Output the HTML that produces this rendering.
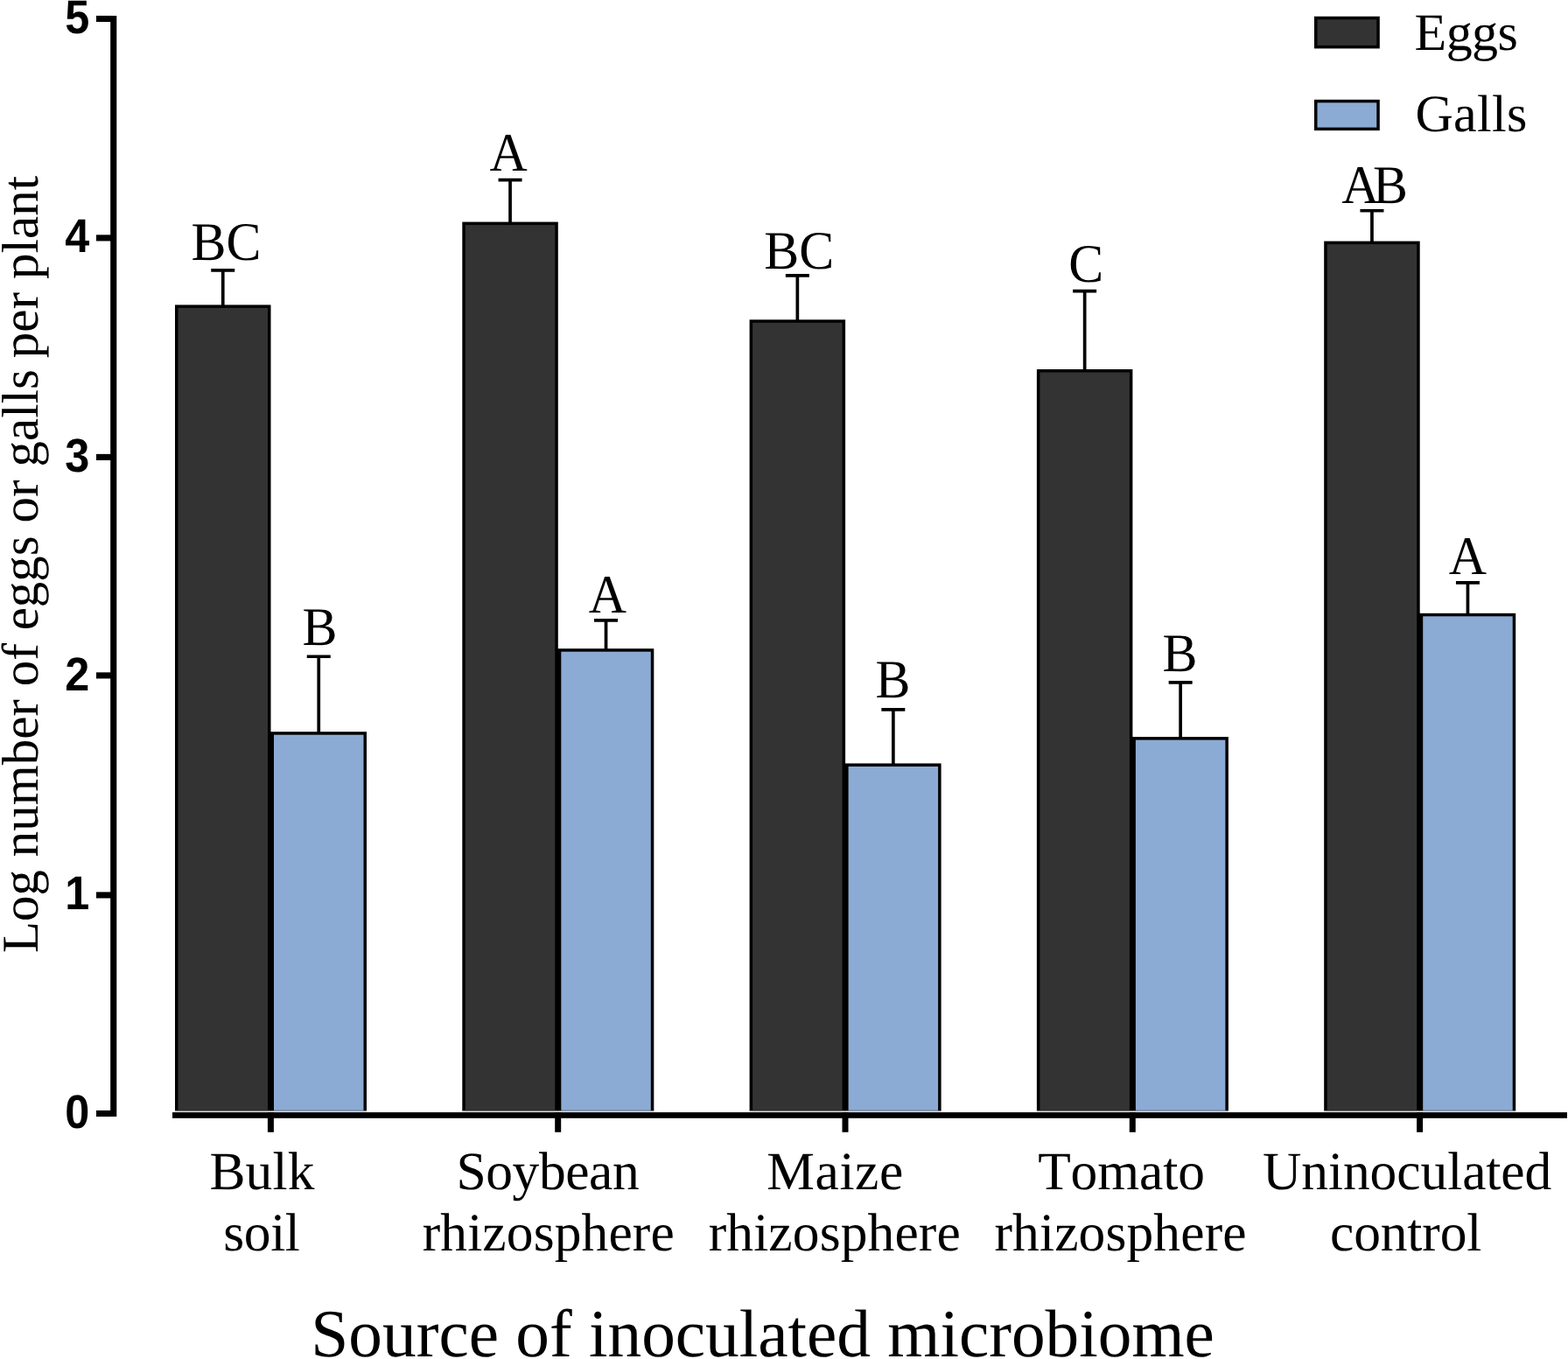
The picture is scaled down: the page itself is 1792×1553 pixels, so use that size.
<!DOCTYPE html>
<html lang="en">
<head>
<meta charset="utf-8">
<title>Log number of eggs or galls per plant</title>
<style>
html,body{margin:0;padding:0;background:#fff;}
body{width:1792px;height:1553px;overflow:hidden;}
svg{display:block;position:absolute;left:0;top:0;}
text{font-family:"Liberation Serif","Times New Roman",serif;fill:#000;text-rendering:geometricPrecision;font-kerning:none;font-variant-ligatures:none;}
.num{font-family:"Liberation Sans",Arial,sans-serif;font-weight:700;font-size:52px;text-anchor:end;}
.let{font-size:60.5px;text-anchor:middle;}
.xl{font-size:61.5px;text-anchor:middle;}
.leg{font-size:60px;}
.ttl{font-size:77.3px;text-anchor:middle;}
.yl{font-size:59px;text-anchor:middle;}
</style>
</head>
<body>
<svg width="1792" height="1553" viewBox="0 0 1792 1553">
<rect x="0" y="0" width="1792" height="1553" fill="#ffffff"/>

<g stroke="#000" stroke-width="3.5" stroke-linejoin="miter">
<path d="M241.25 308.85 H268.25 M254.75 308.85 V349.40" fill="none" stroke-width="3.7"/>
<rect x="200.00" y="348.40" width="109.50" height="921.20" fill="#000" stroke="none"/>
<rect x="203.50" y="351.90" width="102.50" height="917.70" fill="#333333" stroke="none"/>
<path d="M350.75 750.25 H377.75 M364.25 750.25 V837.20" fill="none" stroke-width="3.7"/>
<rect x="308.50" y="836.20" width="110.50" height="433.40" fill="#000" stroke="none"/>
<rect x="313.00" y="839.70" width="102.50" height="429.90" fill="#8cabd4" stroke="none"/>
<path d="M569.55 205.60 H596.55 M583.05 205.60 V254.60" fill="none" stroke-width="3.7"/>
<rect x="528.30" y="253.60" width="109.50" height="1016.00" fill="#000" stroke="none"/>
<rect x="531.80" y="257.10" width="102.50" height="1012.50" fill="#333333" stroke="none"/>
<path d="M679.05 708.95 H706.05 M692.55 708.95 V742.20" fill="none" stroke-width="3.7"/>
<rect x="636.80" y="741.20" width="110.50" height="528.40" fill="#000" stroke="none"/>
<rect x="641.30" y="744.70" width="102.50" height="524.90" fill="#8cabd4" stroke="none"/>
<path d="M897.85 314.95 H924.85 M911.35 314.95 V366.30" fill="none" stroke-width="3.7"/>
<rect x="856.60" y="365.30" width="109.50" height="904.30" fill="#000" stroke="none"/>
<rect x="860.10" y="368.80" width="102.50" height="900.80" fill="#333333" stroke="none"/>
<path d="M1007.35 810.85 H1034.35 M1020.85 810.85 V873.40" fill="none" stroke-width="3.7"/>
<rect x="965.10" y="872.40" width="110.50" height="397.20" fill="#000" stroke="none"/>
<rect x="969.60" y="875.90" width="102.50" height="393.70" fill="#8cabd4" stroke="none"/>
<path d="M1226.15 332.65 H1253.15 M1239.65 332.65 V423.00" fill="none" stroke-width="3.7"/>
<rect x="1184.90" y="422.00" width="109.50" height="847.60" fill="#000" stroke="none"/>
<rect x="1188.40" y="425.50" width="102.50" height="844.10" fill="#333333" stroke="none"/>
<path d="M1335.65 779.95 H1362.65 M1349.15 779.95 V843.10" fill="none" stroke-width="3.7"/>
<rect x="1293.40" y="842.10" width="110.50" height="427.50" fill="#000" stroke="none"/>
<rect x="1297.90" y="845.60" width="102.50" height="424.00" fill="#8cabd4" stroke="none"/>
<path d="M1554.45 240.75 H1581.45 M1567.95 240.75 V276.60" fill="none" stroke-width="3.7"/>
<rect x="1513.20" y="275.60" width="109.50" height="994.00" fill="#000" stroke="none"/>
<rect x="1516.70" y="279.10" width="102.50" height="990.50" fill="#333333" stroke="none"/>
<path d="M1663.95 665.85 H1690.95 M1677.45 665.85 V701.80" fill="none" stroke-width="3.7"/>
<rect x="1621.70" y="700.80" width="110.50" height="568.80" fill="#000" stroke="none"/>
<rect x="1626.20" y="704.30" width="102.50" height="565.30" fill="#8cabd4" stroke="none"/>
</g>
<rect x="200.00" y="1268.6" width="219.00" height="1" fill="#000" fill-opacity="0.35"/>
<rect x="200.00" y="1269.6" width="219.00" height="1.6" fill="#dedede"/>
<rect x="528.30" y="1268.6" width="219.00" height="1" fill="#000" fill-opacity="0.35"/>
<rect x="528.30" y="1269.6" width="219.00" height="1.6" fill="#dedede"/>
<rect x="856.60" y="1268.6" width="219.00" height="1" fill="#000" fill-opacity="0.35"/>
<rect x="856.60" y="1269.6" width="219.00" height="1.6" fill="#dedede"/>
<rect x="1184.90" y="1268.6" width="219.00" height="1" fill="#000" fill-opacity="0.35"/>
<rect x="1184.90" y="1269.6" width="219.00" height="1.6" fill="#dedede"/>
<rect x="1513.20" y="1268.6" width="219.00" height="1" fill="#000" fill-opacity="0.35"/>
<rect x="1513.20" y="1269.6" width="219.00" height="1.6" fill="#dedede"/>
<g fill="#000">
<rect x="126.2" y="18" width="7.1" height="1258"/>
<rect x="110" y="1268.95" width="17" height="7.1"/>
<rect x="110" y="1019.35" width="17" height="7.1"/>
<rect x="110" y="768.35" width="17" height="7.1"/>
<rect x="110" y="518.85" width="17" height="7.1"/>
<rect x="110" y="268.35" width="17" height="7.1"/>
<rect x="110" y="17.95" width="17" height="7.1"/>
<rect x="197" y="1271.1" width="1594" height="6.7"/>
<rect x="305.90" y="1271.1" width="7" height="22.7"/>
<rect x="634.20" y="1271.1" width="7" height="22.7"/>
<rect x="962.50" y="1271.1" width="7" height="22.7"/>
<rect x="1290.80" y="1271.1" width="7" height="22.7"/>
<rect x="1619.10" y="1271.1" width="7" height="22.7"/>
</g>
<text class="num" transform="translate(102.4 1289.10) scale(0.97 1.04)">0</text>
<text class="num" transform="translate(102.4 1038.90) scale(0.97 1.04)">1</text>
<text class="num" transform="translate(102.4 788.70) scale(0.97 1.04)">2</text>
<text class="num" transform="translate(102.4 538.50) scale(0.97 1.04)">3</text>
<text class="num" transform="translate(102.4 288.30) scale(0.97 1.04)">4</text>
<text class="num" transform="translate(102.4 38.10) scale(0.97 1.04)">5</text>
<text class="let" transform="translate(258.40 296.50) scale(0.99 1.025)">BC</text>
<text class="let" transform="translate(365.40 737.00) scale(0.99 1.025)">B</text>
<text class="let" transform="translate(581.25 195.00) scale(0.99 1.025)">A</text>
<text class="let" transform="translate(694.30 700.00) scale(0.99 1.025)">A</text>
<text class="let" transform="translate(913.30 307.00) scale(0.99 1.025)">BC</text>
<text class="let" transform="translate(1020.40 796.50) scale(0.99 1.025)">B</text>
<text class="let" transform="translate(1241.10 322.30) scale(0.99 1.025)">C</text>
<text class="let" transform="translate(1348.50 766.50) scale(0.99 1.025)">B</text>
<text class="let" transform="translate(1571.10 231.90) scale(0.99 1.025)">A<tspan dx="-7.5">B</tspan></text>
<text class="let" transform="translate(1677.50 655.80) scale(0.99 1.025)">A</text>
<text class="xl" x="299.60" y="1359.2" letter-spacing="0.2">Bulk</text>
<text class="xl" x="298.90" y="1429.3" letter-spacing="-0.4">soil</text>
<text class="xl" x="625.90" y="1359.2" letter-spacing="-0.45">Soybean</text>
<text class="xl" x="626.80" y="1429.3" letter-spacing="0.12">rhizosphere</text>
<text class="xl" x="954.60" y="1359.2" letter-spacing="0.6">Maize</text>
<text class="xl" x="953.80" y="1429.3" letter-spacing="0.12">rhizosphere</text>
<text class="xl" x="1281.50" y="1359.2" letter-spacing="-0.1">Tomato</text>
<text class="xl" x="1280.60" y="1429.3" letter-spacing="0.12">rhizosphere</text>
<text class="xl" x="1608.10" y="1359.2" letter-spacing="-0.08">Uninoculated</text>
<text class="xl" x="1606.60" y="1429.3" letter-spacing="-0.15">control</text>
<rect x="1503.75" y="20.5" width="71.3" height="33.2" fill="#333333" stroke="#000" stroke-width="3.5"/>
<rect x="1503.75" y="115.6" width="71.3" height="31.8" fill="#8cabd4" stroke="#000" stroke-width="3.5"/>
<text class="leg" x="1616.6" y="56.6" letter-spacing="-0.6">Eggs</text>
<text class="leg" x="1617.4" y="150" letter-spacing="0.3">Galls</text>
<text class="ttl" x="871.6" y="1550.3">Source of inoculated microbiome</text>
<text class="yl" style="text-anchor:start" transform="translate(42.7 1089.0) rotate(-90)" x="0" y="0">Log number of eggs or galls <tspan dx="-1.9">per</tspan> <tspan dx="0.3">plant</tspan></text>
</svg>
</body>
</html>
